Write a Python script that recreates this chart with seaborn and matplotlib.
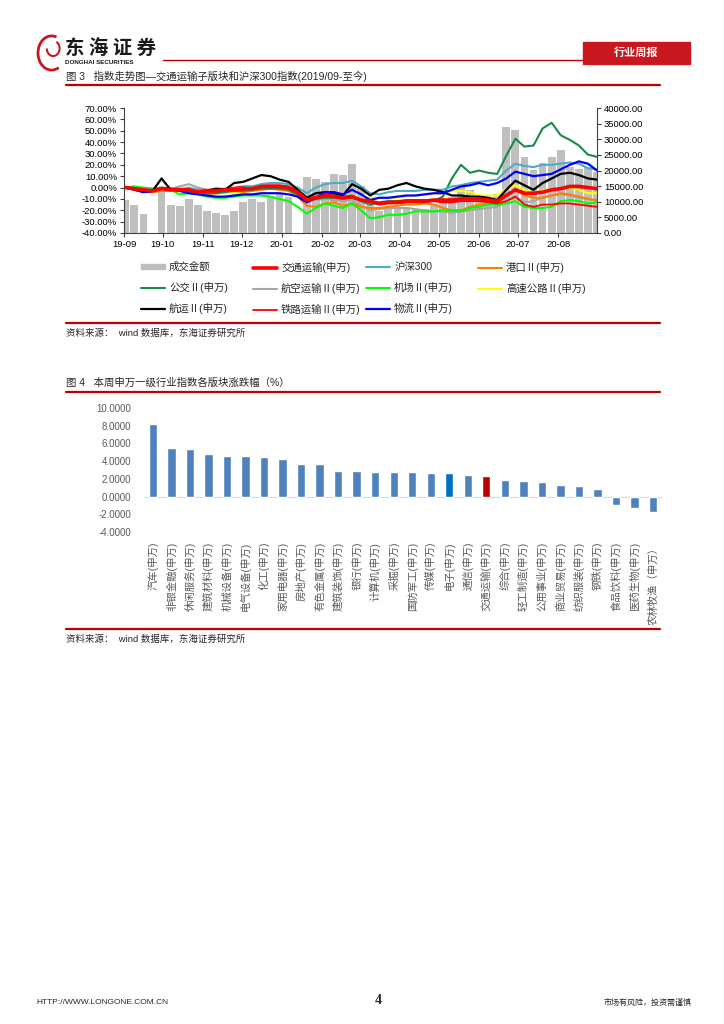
import matplotlib
matplotlib.use('Agg')
import matplotlib.pyplot as plt
import matplotlib.dates as mdates
from matplotlib.patches import Rectangle, Patch, Arc
from matplotlib.lines import Line2D
from matplotlib.ticker import MultipleLocator, FormatStrFormatter
import numpy as np
import pandas as pd
import seaborn as sns

sns.set_theme(style='white')
plt.rcParams['font.family'] = ['Liberation Sans', 'Noto Sans CJK SC', 'DejaVu Sans']
plt.rcParams['axes.unicode_minus'] = False

# ---- figure 3 data: weekly samples, % change since 2019-09 ----
dates = pd.date_range('2019-09-02', periods=53, freq='7D')

turnover = [10600, 9000, 6000, 0, 13500, 9000, 8500, 11000, 9000, 6900, 6500, 5800, 6900,
            10000, 11000, 10000, 12000, 12800, 11500, 0, 18000, 17400, 16300, 19000, 18500,
            22000, 15000, 9200, 7100, 7700, 7700, 8200, 7700, 7700, 9200, 10300, 11500, 15000,
            13700, 12000, 11500, 12600, 34000, 33000, 24400, 20100, 22300, 24400, 26500, 21200,
            20600, 21200, 19600]

transport = [0, -1, -2, -3, -1, -2, -2, -2, -4, -3, -3, -2, -2, -1, -1, 1, 1, 1, 0, -4, -11,
             -9, -7, -8, -9, -8, -11, -12, -14, -13, -13, -12, -12, -12, -11, -11, -11, -10,
             -10, -10, -11, -12, -7, -2, -5, -5, -4, -2, -1, 1, 1, 0, -1]
hs300 = [0, -1, -1, -2, -1, -1, -2, 0, -2, -3, -3, -2, -1, 0, 1, 3, 4, 4, 3, 0, -5, 0, 3, 4,
         4, 6, 1, -5, -6, -4, -3, -3, -3, -2, -2, -2, 1, 2, 4, 5, 6, 7, 15, 21, 19, 18, 20, 20,
         21, 22, 21, 17, 16]
port = [0, -2, -4, -4, -3, -3, -2, -3, -5, -6, -5, -4, -4, -4, -3, -2, -1, -2, -3, -8, -16,
        -17, -14, -13, -16, -14, -17, -18, -18, -17, -16, -15, -15, -14, -15, -18, -20, -20,
        -17, -15, -14, -14, -7, -2, -7, -9, -9, -7, -5, -6, -8, -10, -11]
bus = [0, -1, -2, -2, -1, -2, -3, -3, -4, -5, -5, -4, -3, -3, -2, -1, -1, -1, -2, -6, -12,
       -10, -9, -9, -10, -9, -12, -15, -13, -12, -12, -11, -11, -11, -12, -8, 8, 20, 13, 15,
       13, 12, 28, 43, 36, 37, 52, 57, 46, 42, 37, 29, 27]
airline = [0, 0, -1, -1, 0, -1, 1, 3, 0, -2, -3, -3, -2, -3, -2, -1, 0, -1, -2, -6, -13, -11,
           -10, -11, -12, -11, -16, -20, -19, -18, -18, -18, -19, -20, -21, -21, -22, -21, -20,
           -19, -18, -17, -12, -8, -13, -12, -9, -7, -6, -7, -9, -10, -12]
airport = [0, 1, 0, -1, -1, -2, -6, -5, -6, -8, -9, -9, -8, -7, -7, -7, -8, -10, -12, -17,
           -23, -18, -14, -16, -18, -14, -20, -27, -26, -24, -24, -23, -21, -21, -21, -20, -20,
           -21, -18, -17, -15, -15, -14, -12, -17, -18, -18, -17, -12, -11, -12, -14, -13]
highway = [0, -1, -2, -3, -2, -2, -2, -3, -4, -5, -5, -5, -4, -3, -1, 0, 1, 0, -1, -5, -12,
           -9, -7, -7, -9, -7, -10, -9, -9, -10, -9, -8, -7, -6, -6, -5, -3, -3, -4, -7, -7,
           -7, -1, 2, -2, -5, -2, -2, -1, 0, -2, -5, -5]
shipping = [0, -1, -4, -3, 8, -2, -2, -2, -4, -3, -1, -2, 4, 5, 8, 11, 10, 7, 5, -2, -9, -5,
            -4, -5, -7, 3, -1, -7, -2, -1, 2, 4, 1, -1, -2, -4, -7, -7, -8, -8, -9, -11, -2, 6,
            2, -2, 4, 8, 12, 13, 11, 8, 7]
railway = [0, -1, -2, -2, 0, -1, -1, -1, -2, -2, -1, -1, 0, 1, 1, 2, 2, 2, 1, -3, -10, -8,
           -6, -7, -8, -7, -11, -13, -15, -14, -14, -13, -13, -13, -12, -13, -13, -12, -12,
           -12, -13, -14, -12, -8, -15, -17, -15, -15, -14, -14, -15, -16, -17]
logistics = [0, -2, -4, -3, -1, -1, -3, -5, -6, -7, -8, -8, -7, -6, -6, -5, -5, -5, -6, -8,
             -13, -9, -4, -4, -6, -2, -6, -11, -9, -9, -8, -7, -7, -6, -5, -5, -2, 1, 2, 4, 2,
             4, 8, 14, 12, 10, 11, 12, 16, 20, 23, 21, 15]

# ---- figure 4 data ----
industries = ['汽车(申万)', '非银金融(申万)', '休闲服务(申万)', '建筑材料(申万)', '机械设备(申万)',
              '电气设备(申万)', '化工(申万)', '家用电器(申万)', '房地产(申万)', '有色金属(申万)',
              '建筑装饰(申万)', '银行(申万)', '计算机(申万)', '采掘(申万)', '国防军工(申万)',
              '传媒(申万)', '电子(申万)', '通信(申万)', '交通运输(申万)', '综合(申万)',
              '轻工制造(申万)', '公用事业(申万)', '商业贸易(申万)', '纺织服装(申万)', '钢铁(申万)',
              '食品饮料(申万)', '医药生物(申万)', '农林牧渔（申万）']
changes = [8.24, 5.51, 5.39, 4.76, 4.57, 4.57, 4.46, 4.27, 3.71, 3.63, 2.92, 2.92, 2.73, 2.73,
           2.73, 2.62, 2.62, 2.40, 2.32, 1.91, 1.80, 1.69, 1.27, 1.20, 0.90, -0.94, -1.24, -1.69]

W, H = 724, 1024
fig = plt.figure(figsize=(W / 100, H / 100), dpi=100)


def fx(x):
    return x / W


def fy(y):
    return 1 - y / H


RED = '#C00000'
CJK = ['Noto Sans CJK SC', 'DejaVu Sans']

# ---- header ----
logo = fig.add_axes([fx(34), fy(72), 32 / W, 38 / H])
logo.set_xlim(0, 1)
logo.set_ylim(0, 1)
logo.axis('off')
logo.add_patch(Arc((0.55, 0.5), 0.85, 0.9, theta1=70, theta2=300, color='#C8171E', lw=2))
logo.add_patch(Arc((0.6, 0.62), 0.4, 0.4, theta1=180, theta2=420, color='#C8171E', lw=1.5))

fig.text(fx(65), fy(49), '东 海 证 券', fontsize=14, fontweight='bold', va='center',
         family=CJK, color='#1a1a1a')
fig.text(fx(65), fy(62), 'DONGHAI SECURITIES', fontsize=4.5, fontweight='bold', va='center',
         color='#1a1a1a')
fig.add_artist(Line2D([fx(163), fx(583)], [fy(60), fy(60)], color=RED, lw=1))
fig.add_artist(Rectangle((fx(583), fy(63.5)), 107 / W, 22 / H, color='#C8171E',
                         transform=fig.transFigure))
fig.text(fx(636), fy(52.5), '行业周报', color='white', fontsize=8, fontweight='bold',
         ha='center', va='center', family=CJK)

# ---- figure 3 ----
fig.text(fx(66), fy(76), '图 3   指数走势图—交通运输子版块和沪深300指数(2019/09-至今)',
         fontsize=7.5, va='center')
fig.add_artist(Line2D([fx(66), fx(660)], [fy(85), fy(85)], color=RED, lw=1.6))

ax1 = fig.add_axes([fx(124), fy(233), (597 - 124) / W, (233 - 108) / H])
ax2 = ax1.twinx()
ax2.bar(dates, turnover, width=6, color='#BFBFBF', linewidth=0)
ax1.set_zorder(ax2.get_zorder() + 1)
ax1.patch.set_visible(False)

series = [
    ('航空运输Ⅱ(申万)', airline, '#A6A6A6', 1.5),
    ('港口Ⅱ(申万)', port, '#FF8000', 1.5),
    ('高速公路Ⅱ(申万)', highway, '#FFFF00', 1.5),
    ('机场Ⅱ(申万)', airport, '#00FF00', 1.5),
    ('铁路运输Ⅱ(申万)', railway, '#FF0000', 1.3),
    ('公交Ⅱ(申万)', bus, '#178A4C', 1.5),
    ('沪深300', hs300, '#4BACC6', 1.5),
    ('航运Ⅱ(申万)', shipping, '#000000', 1.6),
    ('物流Ⅱ(申万)', logistics, '#0000FF', 1.6),
    ('交通运输(申万)', transport, '#FF0000', 2.6),
]
handles = {'成交金额': Patch(color='#BFBFBF')}
for name, vals, color, lw in series:
    sns.lineplot(x=dates, y=vals, ax=ax1, color=color, lw=lw, legend=False)
    handles[name] = Line2D([], [], color=color, lw=lw)

ax1.set_xlim(pd.Timestamp('2019-09-01'), pd.Timestamp('2020-08-31'))
ax1.set_ylim(-40, 70)
ax1.yaxis.set_major_locator(MultipleLocator(10))
ax1.yaxis.set_major_formatter(FormatStrFormatter('%.2f%%'))
ax1.xaxis.set_major_locator(mdates.MonthLocator())
ax1.xaxis.set_major_formatter(mdates.DateFormatter('%y-%m'))
ax2.set_ylim(0, 40000)
ax2.yaxis.set_major_locator(MultipleLocator(5000))
ax2.yaxis.set_major_formatter(FormatStrFormatter('%.2f'))
for a in (ax1, ax2):
    a.set_xlabel('')
    a.set_ylabel('')
    for s in a.spines.values():
        s.set_color('#404040')
        s.set_linewidth(0.8)
    a.spines['top'].set_visible(False)
ax1.spines['right'].set_visible(False)
ax2.spines['left'].set_visible(False)
ax2.spines['bottom'].set_visible(False)
ax1.tick_params(axis='both', which='major', direction='out', length=3, width=0.8,
                labelsize=6.8, pad=2, bottom=True, left=True, colors='#404040',
                labelcolor='black')
ax2.tick_params(axis='y', direction='out', length=3, width=0.8, labelsize=6.8, pad=2,
                right=True, colors='#404040', labelcolor='black')

legend_rows = [['成交金额', '交通运输(申万)', '沪深300', '港口Ⅱ(申万)'],
               ['公交Ⅱ(申万)', '航空运输Ⅱ(申万)', '机场Ⅱ(申万)', '高速公路Ⅱ(申万)'],
               ['航运Ⅱ(申万)', '铁路运输Ⅱ(申万)', '物流Ⅱ(申万)']]
col_x = [141, 253, 366, 478]
for c, x in enumerate(col_x):
    names = [row[c] for row in legend_rows if c < len(row)]
    fig.legend([handles[n] for n in names], names, loc='upper left',
               bbox_to_anchor=(fx(x), fy(262)), frameon=False, fontsize=7.5,
               handlelength=2.3, handleheight=0.5, handletextpad=0.4, labelspacing=0.95,
               borderpad=0, borderaxespad=0)

fig.add_artist(Line2D([fx(66), fx(660)], [fy(323), fy(323)], color=RED, lw=1.6))
fig.text(fx(66), fy(333), '资料来源：  wind 数据库，东海证券研究所', fontsize=6.8, va='center')

# ---- figure 4 ----
fig.text(fx(66), fy(383), '图 4   本周申万一级行业指数各版块涨跌幅（%）', fontsize=7.5, va='center')
fig.add_artist(Line2D([fx(66), fx(660)], [fy(392), fy(392)], color=RED, lw=1.6))

ax3 = fig.add_axes([fx(143.6), fy(532), (662.3 - 143.6) / W, (532 - 408) / H])
df4 = pd.DataFrame({'industry': industries, 'change': changes})
bar_colors = ['#4F81BD'] * len(industries)
bar_colors[industries.index('电子(申万)')] = '#0070C0'
bar_colors[industries.index('交通运输(申万)')] = RED
sns.barplot(data=df4, x='industry', y='change', hue='industry', palette=bar_colors,
            legend=False, ax=ax3, width=0.45, saturation=1)
ax3.axhline(0, color='#D9D9D9', lw=0.8, zorder=0)
ax3.set_xlim(-0.5, len(industries) - 0.5)
ax3.set_ylim(-4, 10)
ax3.yaxis.set_major_locator(MultipleLocator(2))
ax3.yaxis.set_major_formatter(FormatStrFormatter('%.4f'))
ax3.set_xlabel('')
ax3.set_ylabel('')
for s in ax3.spines.values():
    s.set_visible(False)
ax3.tick_params(axis='y', length=0, labelsize=7, pad=9, labelcolor='#595959')
ax3.tick_params(axis='x', length=0, labelsize=7.5, pad=7, labelcolor='#595959',
                labelrotation=90)
for lab in ax3.get_xticklabels():
    lab.set_va('top')
    lab.set_ha('center')

fig.add_artist(Line2D([fx(66), fx(660)], [fy(629), fy(629)], color=RED, lw=1.6, zorder=0))
fig.text(fx(66), fy(639), '资料来源：  wind 数据库，东海证券研究所', fontsize=6.8, va='center')

# ---- footer ----
fig.text(fx(36), fy(1002), 'HTTP://WWW.LONGONE.COM.CN', fontsize=6,
         family=['Liberation Sans Narrow', 'Liberation Sans'], va='center')
fig.text(fx(378), fy(1001), '4', fontsize=10, fontweight='bold', family='Liberation Serif',
         ha='center', va='center')
fig.text(fx(692), fy(1002), '市场有风险，投资需谨慎', fontsize=5.8, family=CJK, ha='right',
         va='center')

fig.savefig('out.png', dpi=100)
